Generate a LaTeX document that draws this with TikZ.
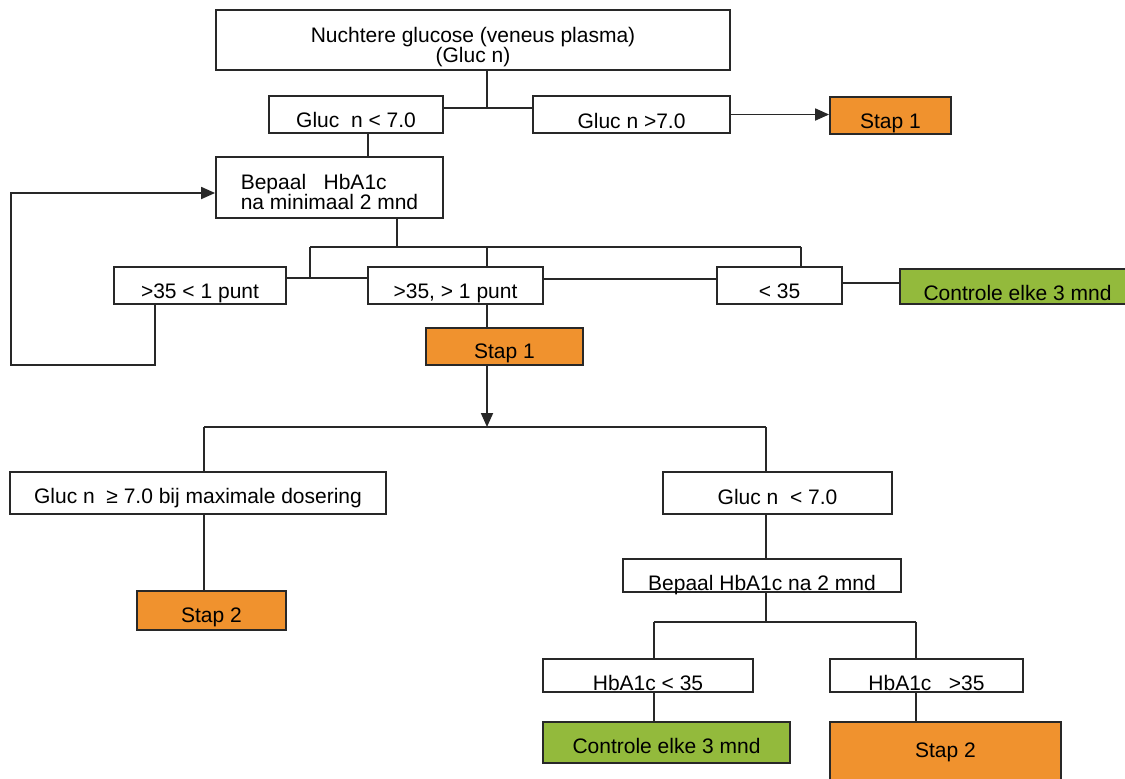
\documentclass[tikz,border=0pt]{standalone}
\usepackage{fontspec}
\setmainfont{Liberation Sans}
\usepackage{xcolor}
\usepackage{tikz}
\usetikzlibrary{arrows.meta,calc}
\definecolor{staporange}{RGB}{240,146,46}
\definecolor{controlegroen}{RGB}{147,186,60}
\definecolor{lijngrijs}{RGB}{40,40,40}
\tikzset{% 
  flow box/.style={%
    draw=lijngrijs,
    line width=0.9pt,
    fill=white,
    inner sep=0pt,
    text depth=0pt,
    font=\fontsize{10.5}{13}\selectfont
  }
}
\tikzset{% 
  flow line/.style={%
    draw=lijngrijs,
    line width=0.9pt
  }
}
\tikzset{% 
  flow arrow/.style={%
    flow line,
    -{Triangle[length=7pt,width=6pt]}
  }
}
\begin{document}
\begin{tikzpicture}[x=0.5pt,y=-0.5pt]
  \path[use as bounding box, fill=white] (0,0) rectangle (1125,778);
  % boxes
  \node[flow box, minimum width=257pt, minimum height=30pt, text height=2pt] (nuchter) at (473,40)
    {\begin{tabular}[t]{@{}c@{}}Nuchtere glucose (veneus plasma)\\[-3pt](Gluc n)\end{tabular}};
  \node[flow box, minimum width=87pt, minimum height=18.5pt, text height=12.5pt] (lt) at (356,114.5) {Gluc\ \ n < 7.0};
  \node[flow box, minimum width=98.5pt, minimum height=18.5pt, text height=13.5pt] (gt) at (631.5,114.5) {Gluc n >7.0};
  \node[flow box, fill=staporange, minimum width=60.5pt, minimum height=18.5pt, text height=12.5pt] (stapa) at (890.5,115.5) {Stap 1};
  \node[flow box, minimum width=113.5pt, minimum height=30.5pt, text height=1.5pt] (bepaal) at (329.5,187.5)
    {\begin{tabular}[t]{@{}l@{}}Bepaal\ \ \ HbA1c\\[-2.6pt]na minimaal 2 mnd\end{tabular}};
  \node[flow box, minimum width=86pt, minimum height=18.5pt, text height=12.5pt] (pa) at (200,285.5) {>35 < 1 punt};
  \node[flow box, minimum width=87.5pt, minimum height=18.5pt, text height=12.5pt] (pb) at (455.5,285.5) {>35, > 1 punt};
  \node[flow box, minimum width=62.5pt, minimum height=18.5pt, text height=12.5pt] (pc) at (779.5,285.5) {< 35};
  \node[flow box, fill=controlegroen, minimum width=117.5pt, minimum height=17.5pt, text height=14pt] (ctrla) at (1017.5,286.5) {Controle elke 3 mnd};
  \node[flow box, fill=staporange, minimum width=78.5pt, minimum height=18.5pt, text height=11.5pt] (stapb) at (504.5,346.5) {Stap 1};
  \node[flow box, minimum width=188pt, minimum height=21pt, text height=10pt] (maxdos) at (198,493) {Gluc n\ \ ≥ 7.0 bij maximale dosering};
  \node[flow box, fill=staporange, minimum width=74.5pt, minimum height=19.5pt, text height=12pt] (stapc) at (211.5,610.5) {Stap 2};
  \node[flow box, minimum width=114.5pt, minimum height=21pt, text height=11pt] (ltb) at (777.5,493) {Gluc n\ \ < 7.0};
  \node[flow box, minimum width=139pt, minimum height=16.5pt, text height=15pt] (bepaalb) at (762,575.5) {Bepaal HbA1c na 2 mnd};
  \node[flow box, minimum width=105pt, minimum height=16.5pt, text height=14.5pt] (hba) at (648,675.5) {HbA1c < 35};
  \node[flow box, minimum width=96.5pt, minimum height=16.5pt, text height=14.5pt] (hbb) at (926.5,675.5) {HbA1c\ \ \ >35};
  \node[flow box, fill=controlegroen, minimum width=123.5pt, minimum height=20.5pt, text height=10.5pt] (ctrlb) at (666.5,742.5) {Controle elke 3 mnd};
  \node[flow box, fill=staporange, minimum width=115.5pt, minimum height=34pt, text height=1pt] (stapd) at (945.5,756) {Stap 2\hspace{12pt}};
  % first split
  \coordinate (sa) at (487,108);
  \draw[flow line] (nuchter.south -| sa) -- (sa);
  \draw[flow line] (lt.east |- sa) -- (gt.west |- sa);
  \draw[flow arrow] (gt.east) -- (gt.east -| stapa.west);
  \draw[flow line] ([xshift=6pt]lt.south) -- ([xshift=6pt]lt.south |- bepaal.north);
  % second split
  \coordinate (sb) at (397,247);
  \coordinate (sbl) at (310,247);
  \coordinate (sbm) at (487,247);
  \coordinate (sbr) at (801,247);
  \coordinate (jab) at (310,278);
  \coordinate (jbc) at (630,279);
  \coordinate (jcg) at (870,283);
  \draw[flow line] (bepaal.south -| sb) -- (sb);
  \draw[flow line] (sbl) -- (sbr);
  \draw[flow line] (sbl) -- (jab);
  \draw[flow line] (pa.east |- jab) -- (pb.west |- jab);
  \draw[flow line] (sbm) -- (sbm |- pb.north);
  \draw[flow line] (sbr) -- (sbr |- pc.north);
  \draw[flow line] (pb.east |- jbc) -- (pc.west |- jbc);
  \draw[flow line] (pc.east |- jcg) -- (ctrla.west |- jcg);
  % loop back
  \coordinate (la) at (155,365);
  \coordinate (lb) at (11,193);
  \draw[flow arrow] (pa.south -| la) -- (la) -| (lb) -- (lb -| bepaal.west);
  % third split
  \coordinate (sc) at (487,427);
  \coordinate (scl) at (204,427);
  \coordinate (scr) at (766,427);
  \draw[flow line] (sbm |- pb.south) -- (sbm |- stapb.north);
  \draw[flow arrow] (stapb.south -| sc) -- (sc);
  \draw[flow line] (scl) -- (scr);
  \draw[flow line] (scl) -- (scl |- maxdos.north);
  \draw[flow line] (scr) -- (scr |- ltb.north);
  \draw[flow line] (scl |- maxdos.south) -- (scl |- stapc.north);
  \draw[flow line] (scr |- ltb.south) -- (scr |- bepaalb.north);
  % fourth split
  \coordinate (sd) at (766,622);
  \coordinate (sdl) at (654,622);
  \coordinate (sdr) at (916,622);
  \draw[flow line] (bepaalb.south -| sd) -- (sd);
  \draw[flow line] (sdl) -- (sdr);
  \draw[flow line] (sdl) -- (sdl |- hba.north);
  \draw[flow line] (sdr) -- (sdr |- hbb.north);
  \draw[flow line] (sdl |- hba.south) -- (sdl |- ctrlb.north);
  \draw[flow line] (sdr |- hbb.south) -- (sdr |- stapd.north);
\end{tikzpicture}
\end{document}
